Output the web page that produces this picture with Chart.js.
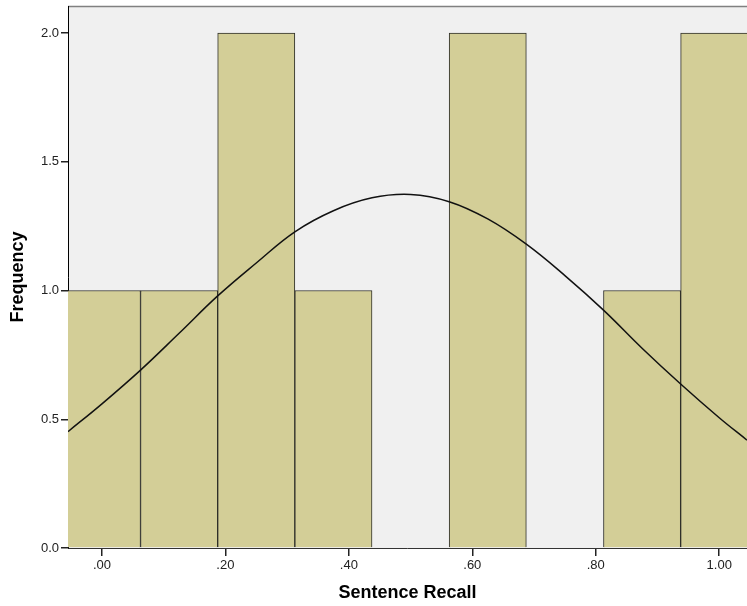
<!DOCTYPE html>
<html>
<head>
<meta charset="utf-8">
<script src="https://cdn.jsdelivr.net/npm/chart.js@4/dist/chart.umd.min.js"></script>
<style>
  body { margin: 0; background: #fff; }
  canvas { display: block; }
</style>
</head>
<body>
<canvas id="chart" width="747" height="606"></canvas>
<script>
// histogram bins (centres) and counts
const binCenters = [0, 0.125, 0.25, 0.375, 0.5, 0.625, 0.75, 0.875, 1.0];
const binCounts = [1, 1, 2, 1, 0, 2, 0, 1, 2];

// normal curve
const curveX = [-0.055, 0, 0.0625, 0.125, 0.1875, 0.25, 0.3125, 0.375, 0.4375, 0.5, 0.5625, 0.625, 0.6875, 0.75, 0.8125, 0.875, 0.9375, 1.0, 1.045];
const curveY = [0.452, 0.56, 0.691, 0.834, 0.979, 1.107, 1.228, 1.31, 1.36, 1.373, 1.345, 1.278, 1.18, 1.058, 0.924, 0.776, 0.637, 0.506, 0.419];

const xTicks = [0, 0.2, 0.4, 0.6, 0.8, 1.0];
const yTicks = [0, 0.5, 1.0, 1.5, 2.0];

const FONT = "'Liberation Sans', Arial, sans-serif";

const plotBackground = {
    id: 'plotBackground',
    beforeDraw(chart) {
        const { ctx, chartArea: a } = chart;
        ctx.save();
        ctx.fillStyle = '#f0f0f0';
        ctx.fillRect(a.left, a.top, a.right - a.left, a.bottom - a.top);
        ctx.strokeStyle = '#808080';
        ctx.lineWidth = 1.5;
        ctx.beginPath();
        ctx.moveTo(a.left, a.top + 0.5);
        ctx.lineTo(a.right, a.top + 0.5);
        ctx.stroke();
        ctx.restore();
    }
};

new Chart(document.getElementById('chart'), {
    data: {
        datasets: [
            {
                type: 'line',
                data: curveX.map((x, i) => ({ x, y: curveY[i] })),
                borderColor: '#111',
                borderWidth: 1.5,
                pointRadius: 0,
                tension: 0.4,
                order: 0
            },
            {
                type: 'bar',
                data: binCenters.map((x, i) => ({ x, y: binCounts[i] })),
                backgroundColor: '#d3ce97',
                borderColor: '#2e2e28',
                borderWidth: 1,
                barPercentage: 1,
                categoryPercentage: 1,
                order: 1
            }
        ]
    },
    options: {
        responsive: false,
        animation: false,
        layout: { padding: { top: 6, right: 0, left: 0, bottom: 0 } },
        plugins: { legend: { display: false }, tooltip: { enabled: false } },
        scales: {
            x: {
                type: 'linear',
                offset: false,
                min: -0.055,
                max: 1.045,
                afterBuildTicks: s => { s.ticks = xTicks.map(v => ({ value: v })); },
                afterFit: s => { s.height = 58; s.paddingLeft = 0; s.paddingRight = 0; },
                ticks: {
                    color: '#222',
                    font: { family: FONT, size: 13 },
                    padding: 2,
                    maxRotation: 0,
                    callback: v => v.toFixed(2).replace(/^0/, '')
                },
                grid: { offset: false, drawOnChartArea: false, tickLength: 8, color: '#222', lineWidth: 1.5 },
                border: { color: '#333', width: 1 },
                title: {
                    display: true,
                    text: 'Sentence Recall',
                    color: '#000',
                    font: { family: FONT, size: 18, weight: 'bold' },
                    padding: { top: 0, bottom: 2 }
                }
            },
            y: {
                type: 'linear',
                min: 0,
                max: 2.105,
                afterBuildTicks: s => { s.ticks = yTicks.map(v => ({ value: v })); },
                afterFit: s => { s.width = 68; s.paddingTop = 0; s.paddingBottom = 0; },
                ticks: {
                    color: '#222',
                    font: { family: FONT, size: 13 },
                    padding: 2,
                    callback: v => v.toFixed(1)
                },
                grid: { drawOnChartArea: false, tickLength: 7, color: '#222', lineWidth: 1.5 },
                border: { color: '#000', width: 1 },
                title: {
                    display: true,
                    text: 'Frequency',
                    color: '#000',
                    font: { family: FONT, size: 18, weight: 'bold' },
                    padding: { top: 7, bottom: 0 }
                }
            }
        }
    },
    plugins: [plotBackground]
});
</script>
</body>
</html>
